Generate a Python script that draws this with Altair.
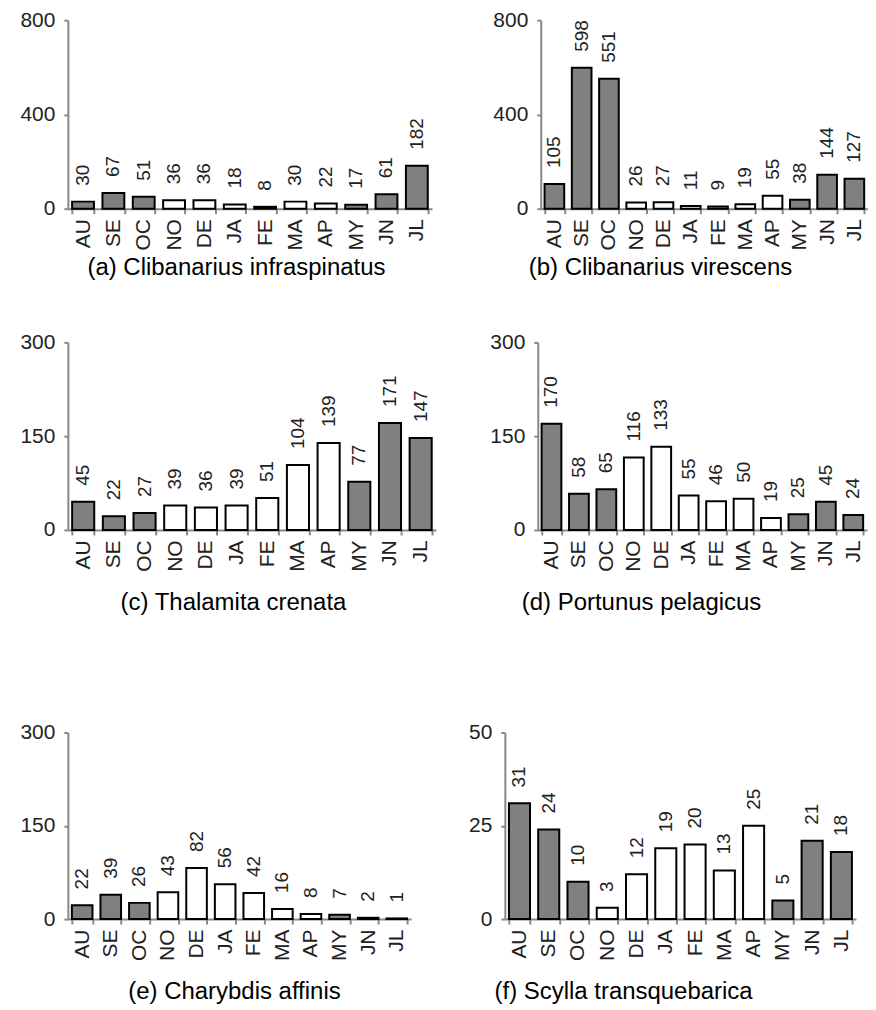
import altair as alt
import pandas as pd

months = ["AU", "SE", "OC", "NO", "DE", "JA", "FE", "MA", "AP", "MY", "JN", "JL"]
season = ["dark", "dark", "dark", "light", "light", "light", "light", "light", "light", "dark", "dark", "dark"]

vals_a = [30, 67, 51, 36, 36, 18, 8, 30, 22, 17, 61, 182]
vals_b = [105, 598, 551, 26, 27, 11, 9, 19, 55, 38, 144, 127]
vals_c = [45, 22, 27, 39, 36, 39, 51, 104, 139, 77, 171, 147]
vals_d = [170, 58, 65, 116, 133, 55, 46, 50, 19, 25, 45, 24]
vals_e = [22, 39, 26, 43, 82, 56, 42, 16, 8, 7, 2, 1]
vals_f = [31, 24, 10, 3, 12, 19, 20, 13, 25, 5, 21, 18]

captions = [
    "(a) Clibanarius infraspinatus",
    "(b) Clibanarius virescens",
    "(c) Thalamita crenata",
    "(d) Portunus pelagicus",
    "(e) Charybdis affinis",
    "(f) Scylla transquebarica",
]
ymaxes = [800, 800, 300, 300, 300, 50]

FONT = "Liberation Sans"


def panel(vals, ymax, caption, width, height, yext, title_x, title_offset):
    df = pd.DataFrame({"month": months, "count": vals, "season": season})
    base = alt.Chart(df)
    x = alt.X(
        "month:N",
        sort=months,
        scale=alt.Scale(paddingInner=0.28, paddingOuter=0.14),
        axis=alt.Axis(
            title=None,
            labelAngle=270,
            labelFontSize=21,
            labelFont=FONT,
            labelColor="#222222",
            labelPadding=5,
            tickBand="extent",
            tickSize=5,
            tickColor="#888888",
            tickWidth=2,
            domainColor="#888888",
            domainWidth=2,
        ),
    )
    y = alt.Y(
        "count:Q",
        scale=alt.Scale(domain=[0, ymax], nice=False),
        axis=alt.Axis(
            title=None,
            values=[0, ymax // 2, ymax],
            grid=False,
            labelFontSize=21,
            labelFont=FONT,
            labelColor="#222222",
            labelPadding=9,
            tickSize=4,
            tickColor="#888888",
            tickWidth=2,
            domainColor="#888888",
            domainWidth=2,
            minExtent=yext,
            maxExtent=yext,
        ),
    )
    bars = base.mark_bar(stroke="#000000", strokeWidth=2).encode(
        x=x,
        y=y,
        fill=alt.Fill(
            "season:N",
            scale=alt.Scale(domain=["dark", "light"], range=["#808080", "#ffffff"]),
            legend=None,
        ),
    )
    text = base.mark_text(
        angle=270, align="left", baseline="middle", yOffset=-16, fontSize=19,
        font=FONT, color="#222222", clip=True,
    ).encode(x=alt.X("month:N", sort=months), y="count:Q", text="count:Q")
    return alt.layer(bars, text).properties(
        width=width,
        height=height,
        title=alt.TitleParams(
            text=caption,
            orient="bottom",
            anchor="middle",
            frame="group",
            dx=title_x - width / 2,
            offset=title_offset,
            fontSize=24,
            font=FONT,
            fontWeight="normal",
            color="#000000",
        ),
    )


pa = panel(vals_a, ymaxes[0], captions[0], 365, 189, 60, 169, 6)
pb = panel(vals_b, ymaxes[1], captions[1], 328, 189, 45, 120, 6)
pc = panel(vals_c, ymaxes[2], captions[2], 369, 188, 60, 166, 20)
pd_ = panel(vals_d, ymaxes[3], captions[3], 330, 188, 45, 104, 20)
pe = panel(vals_e, ymaxes[4], captions[4], 344, 187, 60, 167, 20)
pf = panel(vals_f, ymaxes[5], captions[5], 352, 187, 45, 119, 20)

row1 = alt.hconcat(pa, pb, spacing=60)
row2 = alt.hconcat(pc, pd_, spacing=53)
row3 = alt.hconcat(pe, pf, spacing=49)

chart = alt.vconcat(
    alt.vconcat(row1, row2, spacing=51),
    row3,
    spacing=106,
).properties(padding=0).configure_view(stroke=None).configure_concat(spacing=0)

chart.save("out.html", embed_options={"renderer": "svg", "actions": False})
